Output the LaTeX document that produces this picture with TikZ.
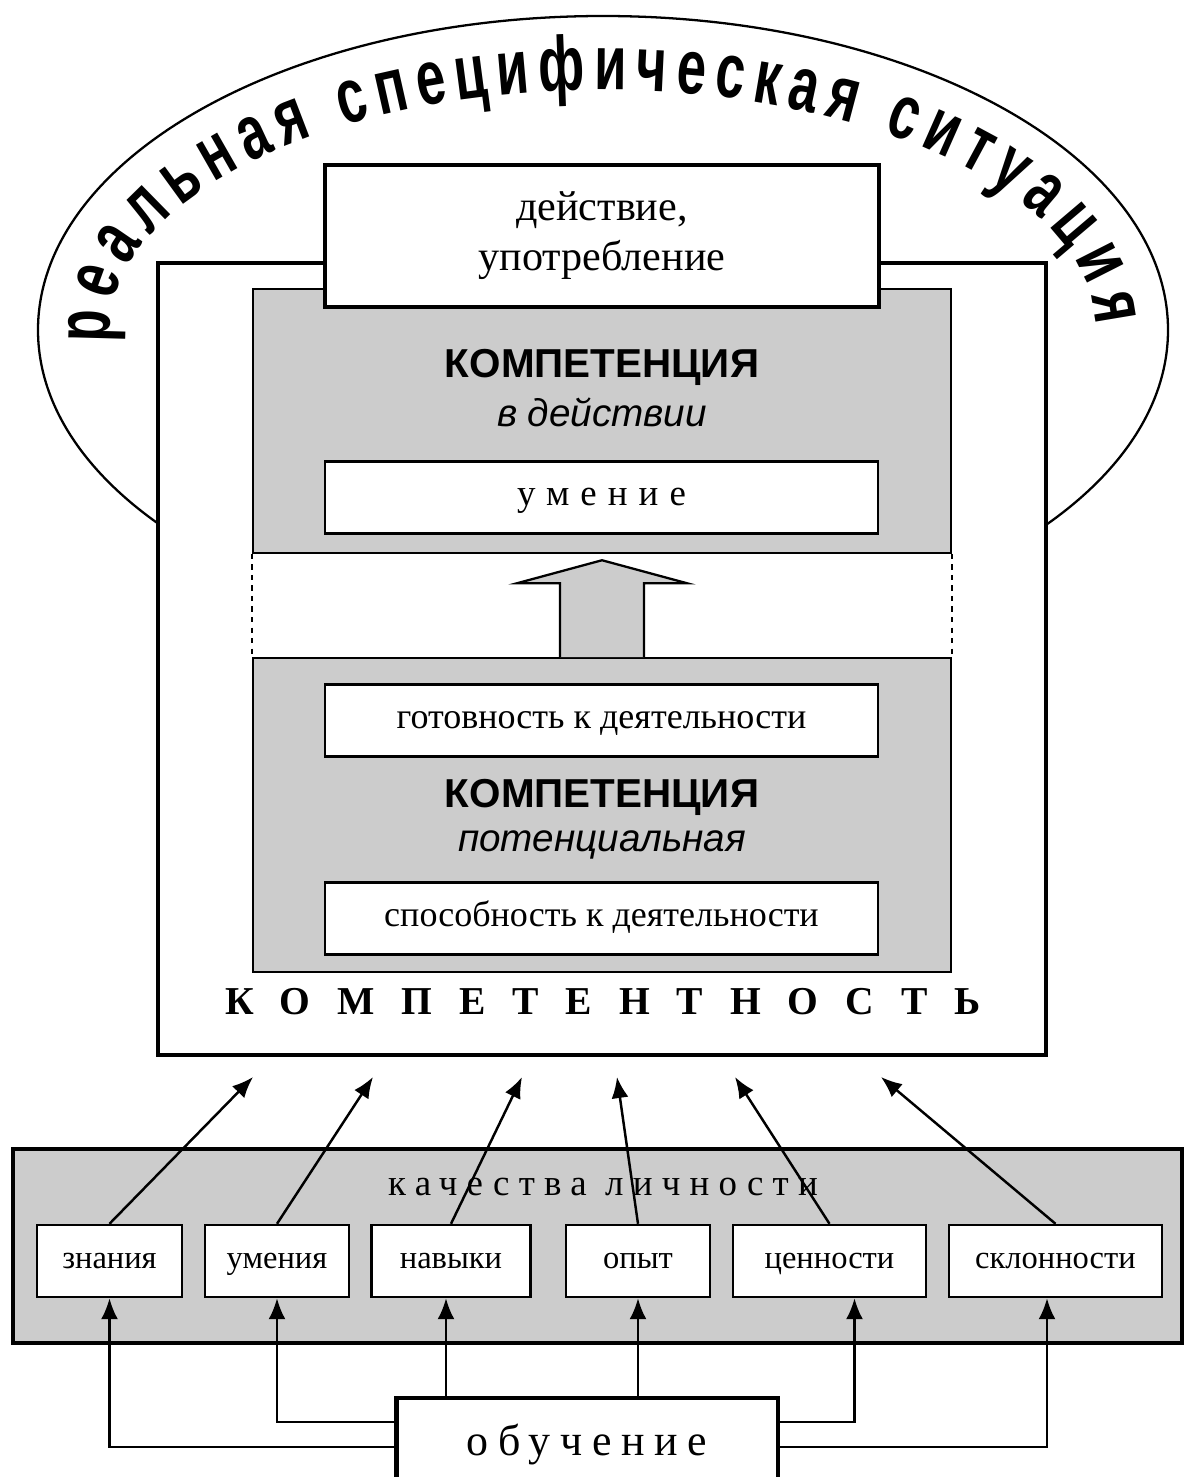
\documentclass[tikz,border=0pt]{standalone}
\usepackage{fontspec}
\setmainfont{Liberation Serif}
\setsansfont{Liberation Sans}
\newfontfamily\arcfont{Liberation Sans}[FakeStretch=0.68]
\usetikzlibrary{arrows.meta,decorations.text,positioning}

\begin{document}
\begin{tikzpicture}[
		x=0.02cm, y=-0.02cm,
		frame/.style={draw, line width=2.6pt, fill=white, inner sep=0pt},
		panel/.style={draw, line width=0.9pt, fill=black!20, inner sep=0pt},
		inbox/.style={draw, line width=1.3pt, fill=white, inner sep=0pt, minimum width=11.06cm, minimum height=1.44cm, text height=14pt, text depth=5pt, font=\fontsize{20.5}{24}\selectfont},
		qbox/.style={draw, line width=1.4pt, fill=white, inner sep=0pt, minimum height=1.44cm, text height=13pt, text depth=4.5pt, font=\fontsize{18.5}{22}\selectfont},
		head/.style={font=\sffamily\bfseries\fontsize{23}{26}\selectfont},
		sub/.style={font=\sffamily\itshape\fontsize{22}{26}\selectfont},
		arr/.style={-{Latex[length=0.42cm, width=0.34cm]}, line width=1.4pt}
		]
		\useasboundingbox (0,0) rectangle (1184,1477);
		
		% situation
		\draw[line width=1.3pt, fill=white] (603,330) ellipse [x radius=565, y radius=314];
		\path[decorate, decoration={text along path, text align={fit to path},
			text={|\arcfont\bfseries\fontsize{44}{44}\selectfont|реальная специфическая ситуация}}]
			(603,330) ++(-183:493 and 240) arc[start angle=-183, end angle=-1, x radius=493, y radius=240];
		
		% competence
		\node[frame, minimum width=17.76cm, minimum height=15.84cm] (kmpbox) at (602,659) {};
		\node[panel, minimum width=13.96cm, minimum height=5.28cm] (act) at (602,421) {};
		\node[panel, minimum width=13.96cm, minimum height=6.28cm] (pot) at (602,815) {};
		\draw[dashed, line width=0.9pt] (act.south west) -- (pot.north west);
		\draw[dashed, line width=0.9pt] (act.south east) -- (pot.north east);
		\draw[line width=1.3pt, fill=black!20] ([xshift=-0.84cm]pot.north) -- ++(0,-74) -- ++(-43,0) -- ++(85,-23) -- ++(85,23) -- ++(-43,0) -- ++(0,74);
		
		\node[frame, line width=2pt, minimum width=11.08cm, minimum height=2.84cm, align=center, font=\fontsize{24}{28.5}\selectfont] (use) at (602,236) {действие,\\употребление};
		
		\node[head] (h1) at (602,367) {КОМПЕТЕНЦИЯ};
		\node[sub] (s1) at (602,412) {в действии};
		\node[inbox, font=\fontsize{21}{24}\selectfont\addfontfeature{LetterSpace=30}] (umenie) at (601.5,497.5) {умение};
		\node[inbox] (gotov) at (601.5,720.5) {готовность к деятельности};
		\node[head] (h2) at (602,797) {КОМПЕТЕНЦИЯ};
		\node[sub] (s2) at (602,845) {потенциальная};
		\node[inbox] (sposob) at (601.5,918.5) {способность к деятельности};
		\node[font=\bfseries\fontsize{22.5}{24}\selectfont\addfontfeature{LetterSpace=68}] (kmpt) at (603,1002) {КОМПЕТЕНТНОСТЬ};
		
		% qualities
		\node[frame, line width=2.2pt, fill=black!20, minimum width=23.38cm, minimum height=3.88cm] (qbar) at (597.5,1246) {};
		\node[font=\fontsize{21}{24}\selectfont\addfontfeature{LetterSpace=25}] (qtitle) at (603,1187) {качества личности};
		\node[qbox, minimum width=2.9cm] (znania) at (109.5,1261) {знания};
		\node[qbox, minimum width=2.88cm] (umenia) at (277,1261) {умения};
		\node[qbox, minimum width=3.18cm] (navyki) at (451,1261) {навыки};
		\node[qbox, minimum width=2.88cm] (opyt) at (638,1261) {опыт};
		\node[qbox, minimum width=3.86cm] (cennosti) at (829.5,1261) {ценности};
		\node[qbox, minimum width=4.26cm] (sklonnosti) at (1055.5,1261) {склонности};
		
		\node[frame, line width=2.8pt, minimum width=7.64cm, minimum height=1.88cm, font=\fontsize{25}{28}\selectfont\addfontfeature{LetterSpace=22}] (ob) at (587,1445) {обучение};
		
		% arrows
		\foreach \b/\x in {znania/253, umenia/373, navyki/522, opyt/617, cennosti/735, sklonnosti/881}{
			\coordinate (tip-\b) at (\x,1077);
			\draw[arr] (\b.north) -- (tip-\b);
		}
		\draw[arr] ([xshift=-0.1cm]ob.north -| navyki) -- ([xshift=-0.1cm]navyki.south);
		\draw[arr] (ob.north -| opyt) -- (opyt.south);
		\draw[arr] ([yshift=0.46cm]ob.west) -| (umenia.south);
		\draw[arr] ([yshift=-0.04cm]ob.west) -| (znania.south);
		\draw[arr] ([yshift=0.46cm]ob.east) -| ([xshift=0.5cm]cennosti.south);
		\draw[arr] ([yshift=-0.04cm]ob.east) -| ([xshift=-0.17cm]sklonnosti.south);
	\end{tikzpicture}
\end{document}
